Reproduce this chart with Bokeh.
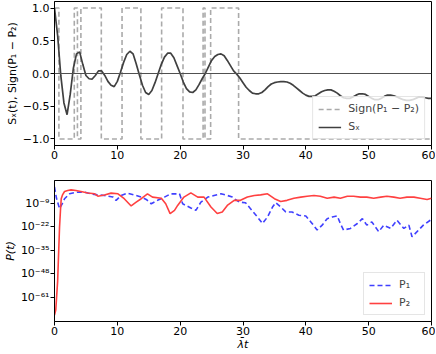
from bokeh.plotting import figure
from bokeh.layouts import column
from bokeh.models import Range1d, Span, FixedTicker, CustomJSTickFormatter, Legend, LegendItem
from bokeh.embed import file_html
from bokeh.resources import INLINE

# ---------------- data ----------------
t_sx = [0.0, 0.5, 1.0, 1.5, 2.0, 2.5, 3.0, 3.5, 4.0, 4.5, 5.0, 5.5, 6.0, 6.5, 7.0, 7.5, 8.0, 8.5, 9.0, 9.5,
        10.0, 10.5, 11.0, 11.5, 12.0, 12.5, 13.0, 13.5, 14.0, 14.5, 15.0, 15.5, 16.0, 16.5, 17.0, 17.5, 18.0, 18.5, 19.0, 19.5,
        20.0, 20.5, 21.0, 21.5, 22.0, 22.5, 23.0, 23.5, 24.0, 24.5, 25.0, 25.5, 26.0, 26.5, 27.0, 27.5, 28.0, 28.5, 29.0, 29.5,
        30.0, 30.5, 31.0, 31.5, 32.0, 32.5, 33.0, 33.5, 34.0, 34.5, 35.0, 35.5, 36.0, 36.5, 37.0, 37.5, 38.0, 38.5, 39.0, 39.5,
        40.0, 40.5, 41.0, 41.5, 42.0, 42.5, 43.0, 43.5, 44.0, 44.5, 45.0, 45.5, 46.0, 46.5, 47.0, 47.5, 48.0, 48.5, 49.0, 49.5,
        50.0, 50.5, 51.0, 51.5, 52.0, 52.5, 53.0, 53.5, 54.0, 54.5, 55.0, 55.5, 56.0, 56.5, 57.0, 57.5, 58.0, 58.5, 59.0, 59.5,
        60.0]
sx_vals = [1.00, 0.58, -0.03, -0.45, -0.63, -0.32, 0.08, 0.30, 0.33, 0.14, -0.03, -0.08, -0.085, -0.03, 0.04, 0.04, -0.03, -0.12, -0.18, -0.20,
           -0.12, 0.02, 0.17, 0.29, 0.34, 0.30, 0.15, -0.02, -0.18, -0.29, -0.32, -0.26, -0.14, 0.00, 0.14, 0.25, 0.31, 0.31, 0.24, 0.12,
           0.00, -0.13, -0.23, -0.28, -0.29, -0.25, -0.17, -0.08, 0.00, 0.10, 0.20, 0.26, 0.29, 0.30, 0.27, 0.20, 0.12, 0.04, -0.01, -0.07,
           -0.14, -0.21, -0.26, -0.30, -0.31, -0.31, -0.29, -0.25, -0.20, -0.16, -0.14, -0.13, -0.125, -0.125, -0.13, -0.15, -0.18, -0.22, -0.26, -0.30,
           -0.33, -0.35, -0.35, -0.34, -0.31, -0.28, -0.26, -0.25, -0.25, -0.27, -0.30, -0.34, -0.37, -0.38, -0.38, -0.36, -0.33, -0.31, -0.31, -0.32,
           -0.35, -0.38, -0.40, -0.40, -0.38, -0.35, -0.33, -0.33, -0.34, -0.36, -0.38, -0.40, -0.41, -0.41, -0.40, -0.38, -0.36, -0.36, -0.37, -0.38,
           -0.38]

t_sign = [0.0, 0.7, 3.15, 3.65, 4.2, 7.45, 10.75, 13.75, 17.05, 20.45, 23.65, 23.95, 24.85, 29.3, 60.0]
sign_vals = [1, -1, 1, -1, 1, -1, 1, -1, 1, -1, 1, -1, 1, -1, -1]

# log10 of P1(t)
t_p1 = [0.0, 0.3, 0.8, 1.2, 1.6, 2.4, 3.45, 4.8, 5.8, 6.9, 7.95, 9.3, 9.8, 10.6, 11.6, 12.7, 13.8, 14.6, 15.4, 16.4,
        17.5, 18.5, 19.9, 20.4, 21.7, 22.5, 23.3, 24.4, 25.4, 26.5, 27.5, 28.3, 29.4, 30.4, 31.2, 32.3, 33.1, 33.9, 34.7, 35.2,
        36.0, 36.8, 37.8, 38.9, 40.0, 40.8, 41.8, 42.6, 43.4, 44.2, 45.0, 45.5, 46.0, 47.1, 48.2, 49.0, 49.7, 50.5, 51.6, 52.4,
        53.5, 54.5, 55.6, 56.4, 56.9, 57.7, 58.7, 59.8, 60.0]
p1_exp = [0.0, -6.0, -12.0, -9.5, -6.5, -3.8, -2.9, -2.9, -3.8, -4.4, -4.7, -5.6, -7.4, -4.7, -3.4, -4.4, -5.6, -6.9, -9.3, -7.4,
          -5.6, -3.8, -3.8, -9.3, -11.6, -12.9, -8.4, -5.6, -4.7, -3.8, -4.7, -5.6, -8.4, -8.7, -12.0, -16.6, -20.2, -16.6, -11.1, -8.7,
          -11.1, -13.8, -13.8, -15.6, -16.0, -19.3, -23.8, -21.1, -17.5, -16.6, -16.0, -20.2, -23.8, -22.9, -20.2, -17.5, -21.1, -19.3, -24.7, -21.1,
          -22.9, -18.4, -22.9, -21.1, -27.5, -24.7, -21.1, -18.4, -18.0]

# log10 of P2(t)
t_p2 = [0.0, 0.2, 0.5, 0.8, 0.95, 1.07, 1.3, 1.6, 2.1, 2.65, 3.4, 4.2, 5.3, 6.4, 6.9, 7.95, 9.0, 10.1, 11.1, 12.2,
        13.0, 13.8, 14.8, 15.6, 17.0, 17.7, 18.4, 19.1, 19.6, 20.6, 21.7, 22.8, 23.8, 24.9, 25.9, 26.7, 27.5, 28.6, 29.6, 30.7,
        31.8, 32.8, 33.9, 35.0, 36.0, 37.0, 38.1, 39.2, 40.2, 41.3, 42.3, 43.4, 44.5, 45.5, 46.6, 47.6, 48.7, 49.7, 50.8, 51.9,
        52.9, 54.0, 55.0, 56.1, 57.2, 58.2, 59.3, 60.0]
p2_exp = [-70.8, -68.0, -52.0, -22.4, -13.0, -6.5, -4.2, -2.5, -2.0, -1.6, -2.0, -2.5, -3.3, -3.8, -5.1, -4.4, -3.4, -3.8, -6.5, -10.5,
          -8.4, -6.5, -3.8, -5.6, -6.2, -9.3, -14.7, -12.9, -10.2, -5.6, -3.3, -5.6, -5.6, -11.1, -14.7, -13.8, -10.2, -7.4, -7.4, -5.6,
          -4.7, -4.4, -3.8, -6.5, -8.0, -7.4, -6.2, -5.6, -5.1, -4.7, -5.1, -6.2, -5.6, -6.2, -5.1, -5.1, -5.6, -5.6, -6.2, -5.6,
          -5.1, -5.6, -6.2, -5.6, -5.6, -6.2, -6.9, -6.2]

x_ticks = [0, 10, 20, 30, 40, 50, 60]
y_ticks_top = [-1.0, -0.5, 0.0, 0.5, 1.0]
y_ticks_bottom_exp = [-61, -48, -35, -22, -9]

FONT = "DejaVu Sans"
FS = "11px"

p1_vals = [10.0 ** e for e in p1_exp]
p2_vals = [10.0 ** e for e in p2_exp]


def style(p):
    p.grid.visible = False
    p.outline_line_color = "black"
    p.outline_line_alpha = 1.0
    p.outline_line_width = 1
    for ax in (p.xaxis, p.yaxis):
        ax.major_tick_out = 4
        ax.major_tick_in = 0
        ax.minor_tick_line_color = None
        ax.axis_line_color = "black"
        ax.major_tick_line_color = "black"
        ax.major_label_text_font = FONT
        ax.major_label_text_font_size = FS
        ax.major_label_text_color = "black"
        ax.major_label_standoff = 1
        ax.axis_label_text_font = FONT
        ax.axis_label_text_font_size = FS
        ax.axis_label_text_color = "black"
        ax.axis_label_standoff = 1
    p.xaxis.ticker = FixedTicker(ticks=x_ticks)


# ---------------- top panel ----------------
top = figure(width=435, height=162, x_range=Range1d(0, 60), y_range=Range1d(-1.1, 1.1),
             output_backend="svg", toolbar_location=None, title=None,
             min_border_left=53, min_border_right=4, min_border_top=1, min_border_bottom=17)
style(top)
top.yaxis.ticker = FixedTicker(ticks=y_ticks_top)
top.yaxis.formatter = CustomJSTickFormatter(code="return tick.toFixed(1).replace('-', '\u2212');")
top.yaxis.axis_label = "S\u2093(t), Sign(P\u2081 \u2212 P\u2082)"
top.yaxis.axis_label_text_font_style = "normal"

top.add_layout(Span(location=0, dimension="width", line_color="#505050", line_width=1))
r_sign = top.step(t_sign, sign_vals, mode="after", line_color="#aaaaaa", line_width=1.6, line_dash="5 3")
r_sx = top.line(t_sx, sx_vals, line_color="#404040", line_width=1.7)

leg1 = Legend(items=[LegendItem(label="Sign(P\u2081 \u2212 P\u2082)", renderers=[r_sign]),
                     LegendItem(label="S\u2093", renderers=[r_sx])],
              location="bottom_right")
top.add_layout(leg1)

# ---------------- bottom panel ----------------
bot = figure(width=435, height=191, x_range=Range1d(0, 60), y_range=Range1d(10 ** -74.3, 10 ** 3.56),
             y_axis_type="log", output_backend="svg", toolbar_location=None, title=None,
             min_border_left=53, min_border_right=4, min_border_top=18, min_border_bottom=31)
style(bot)
bot.yaxis.ticker = FixedTicker(ticks=[10.0 ** e for e in y_ticks_bottom_exp])
bot.yaxis.formatter = CustomJSTickFormatter(code="""
const sup = {'0':'\u2070','1':'\u00b9','2':'\u00b2','3':'\u00b3','4':'\u2074','5':'\u2075','6':'\u2076','7':'\u2077','8':'\u2078','9':'\u2079','-':'\u207b'};
const e = Math.round(Math.log10(tick));
return '10' + String(e).split('').map(c => sup[c]).join('');
""")
bot.yaxis.axis_label = "P(t)"
bot.yaxis.axis_label_text_font_style = "italic"
bot.xaxis.axis_label = "\u03bb\u0304t"
bot.xaxis.axis_label_text_font_style = "italic"
bot.xaxis.axis_label_standoff = 0

r_p1 = bot.line(t_p1, p1_vals, line_color="#4040ff", line_width=1.6, line_dash="5 3")
r_p2 = bot.line(t_p2, p2_vals, line_color="#ff4040", line_width=1.6)

leg2 = Legend(items=[LegendItem(label="P\u2081", renderers=[r_p1]),
                     LegendItem(label="P\u2082", renderers=[r_p2])],
              location="bottom_right")
bot.add_layout(leg2)

for lg in (leg1, leg2):
    lg.label_text_font = FONT
    lg.label_text_font_size = FS
    lg.glyph_width = 23
    lg.glyph_height = 12
    lg.spacing = 5
    lg.padding = 5
    lg.margin = 6
    lg.label_standoff = 7
    lg.label_height = 12
    lg.border_line_color = "#cccccc"
    lg.border_line_width = 1
    lg.background_fill_alpha = 0.8

layout = column(top, bot, spacing=0)
open("out.html", "w").write(file_html(layout, INLINE))
